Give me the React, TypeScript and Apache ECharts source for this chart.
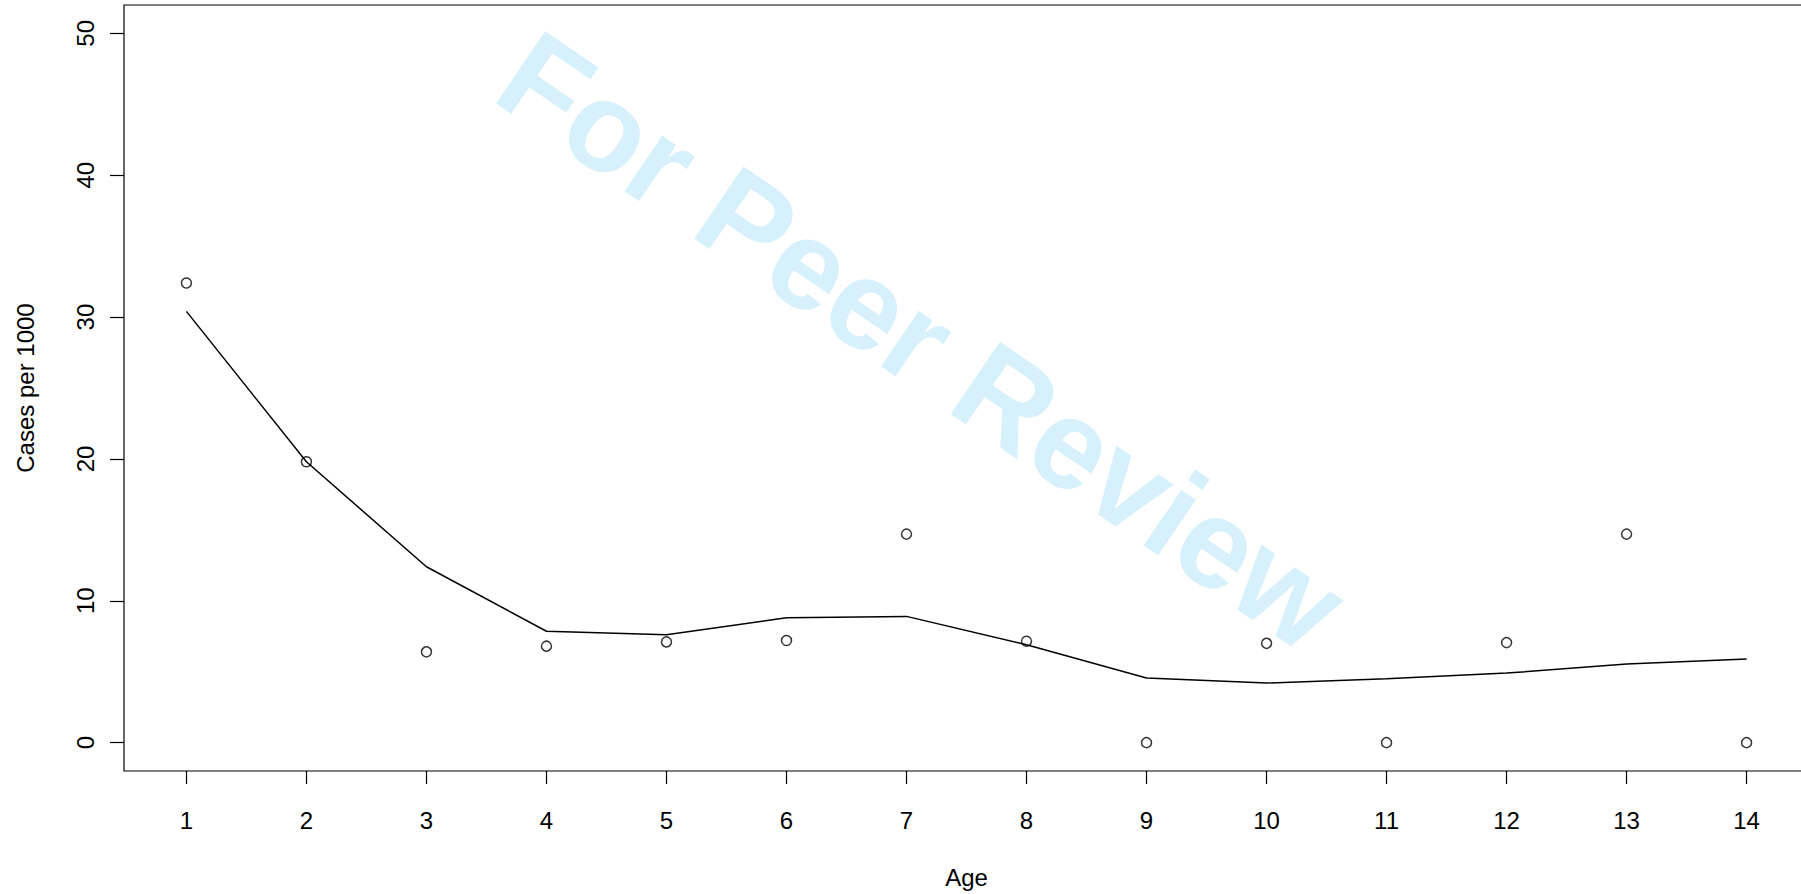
import React, { useEffect, useRef } from "react";
import * as echarts from "echarts";

const ages = [1, 2, 3, 4, 5, 6, 7, 8, 9, 10, 11, 12, 13, 14];
const observed = [32.4, 19.8, 6.4, 6.8, 7.1, 7.2, 14.7, 7.15, 0, 7.0, 0, 7.05, 14.7, 0];
const fitted = [30.4, 19.8, 12.4, 7.85, 7.6, 8.8, 8.9, 6.9, 4.55, 4.2, 4.5, 4.9, 5.55, 5.9];
const yTicks = [0, 10, 20, 30, 40, 50];
const xTitle = "Age";
const yTitle = "Cases per 1000";
const watermark = "For Peer Review";

const FONT = "'Liberation Sans', Arial, Helvetica, sans-serif";

export default function App() {
  const ref = useRef<HTMLDivElement>(null);
  useEffect(() => {
    if (!ref.current) return;
    const chart = echarts.init(ref.current, undefined, { renderer: "svg" });
    chart.setOption({
      animation: false,
      backgroundColor: "#ffffff",
      grid: {
        left: 124,
        top: 5,
        right: 6,
        bottom: 123,
        show: true,
        borderColor: "#000",
        borderWidth: 1.2,
        backgroundColor: "transparent",
      },
      xAxis: {
        type: "value",
        min: 0.48,
        max: 14.52,
        name: xTitle,
        nameLocation: "middle",
        nameGap: 94,
        nameTextStyle: { fontFamily: FONT, fontSize: 24, color: "#000" },
        axisLine: { show: false, onZero: false },
        splitLine: { show: false },
        axisTick: {
          show: true,
          inside: false,
          length: 13,
          customValues: ages,
          lineStyle: { color: "#000", width: 1.2 },
        },
        axisLabel: {
          show: true,
          customValues: ages,
          margin: 37,
          fontFamily: FONT,
          fontSize: 24,
          color: "#000",
        },
      },
      yAxis: {
        type: "value",
        min: -2,
        max: 52,
        name: yTitle,
        nameLocation: "middle",
        nameGap: 87,
        nameRotate: 90,
        nameTextStyle: { fontFamily: FONT, fontSize: 24, color: "#000" },
        axisLine: { show: false, onZero: false },
        splitLine: { show: false },
        axisTick: {
          show: true,
          inside: false,
          length: 14,
          customValues: yTicks,
          lineStyle: { color: "#000", width: 1.2 },
        },
        axisLabel: {
          show: true,
          customValues: yTicks,
          rotate: 90,
          margin: 27,
          fontFamily: FONT,
          fontSize: 24,
          color: "#000",
        },
      },
      series: [
        {
          type: "line",
          data: ages.map((a, i) => [a, fitted[i]]),
          showSymbol: false,
          symbol: "none",
          lineStyle: { color: "#000", width: 1.5 },
          z: 2,
        },
        {
          type: "scatter",
          data: ages.map((a, i) => [a, observed[i]]),
          symbol: "circle",
          symbolSize: 10,
          itemStyle: { color: "transparent", borderColor: "#000", borderWidth: 1.5 },
          z: 3,
        },
      ],
      graphic: [
        {
          type: "text",
          x: 922,
          y: 341,
          rotation: (-34.3 * Math.PI) / 180,
          z: 1,
          silent: true,
          style: {
            text: watermark,
            fontFamily: FONT,
            fontWeight: "bold",
            fontSize: 127,
            fill: "rgb(214,240,252)",
            align: "center",
            verticalAlign: "middle",
          },
        },
      ],
    });
    return () => chart.dispose();
  }, []);
  return (
    <div
      style={{
        position: "absolute",
        left: 0,
        top: 0,
        width: 1801,
        height: 894,
        overflow: "hidden",
        background: "#fff",
      }}
    >
      <div ref={ref} style={{ width: 1815, height: 894 }} />
    </div>
  );
}
